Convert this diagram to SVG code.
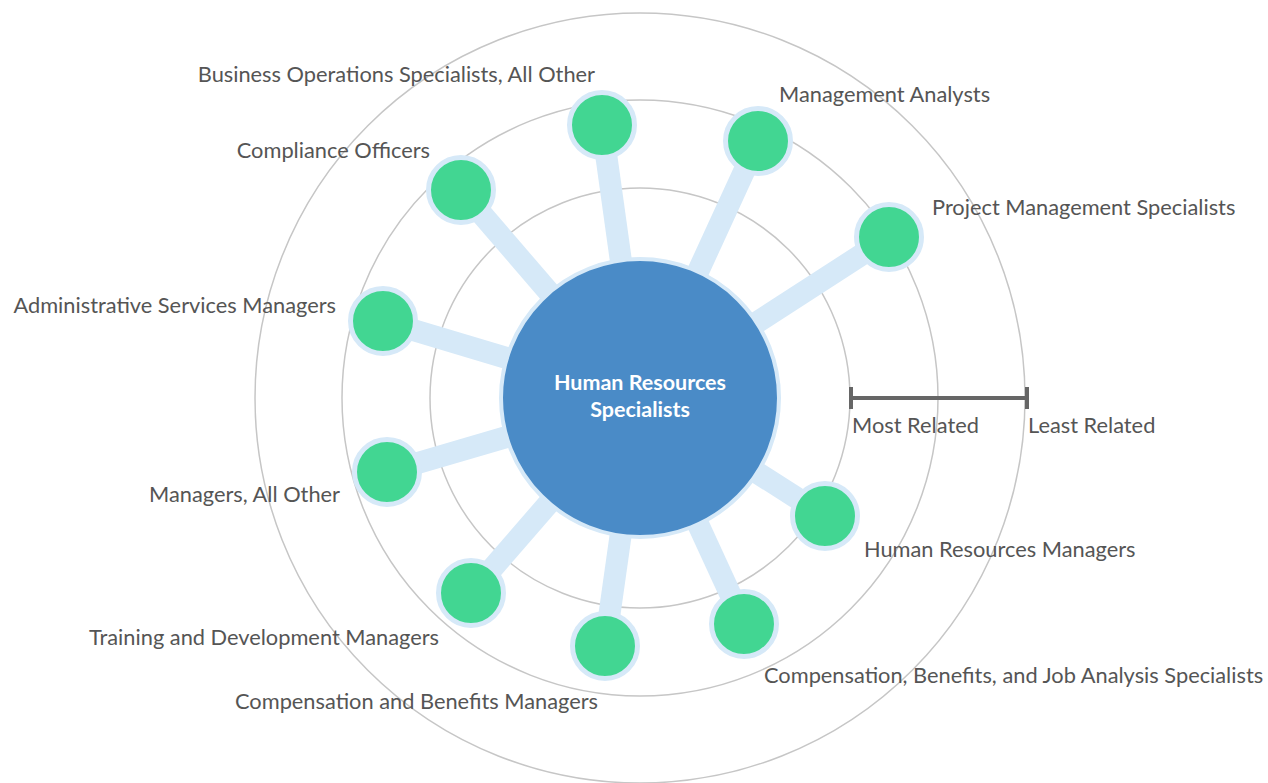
<svg xmlns="http://www.w3.org/2000/svg" width="1268" height="783" viewBox="0 0 1268 783">
<style>
.ring{fill:none;stroke:#c6c6c6;stroke-width:1.5}
.edge{stroke:#d6e9f8;stroke-width:22;stroke-linecap:butt}
.node{fill:#42d692;stroke:#d6e9f8;stroke-width:5}
.lbl{font-family:Lato,"Liberation Sans",sans-serif;font-size:21.8px;fill:#555}
.end{text-anchor:end}
.ctr{font-family:Lato,"Liberation Sans",sans-serif;font-size:21.5px;font-weight:bold;fill:#fff;text-anchor:middle}
.bar{stroke:#666;stroke-width:4;fill:none}
</style>
<rect width="1268" height="783" fill="#fff"/>
<g id="rings">
<circle class="ring" cx="640" cy="398" r="210"/>
<circle class="ring" cx="640" cy="398" r="298"/>
<circle class="ring" cx="640" cy="398" r="385"/>
</g>
<g id="connectors">
<line class="edge" x1="640" y1="398" x2="602" y2="125"/>
<line class="edge" x1="640" y1="398" x2="758" y2="141"/>
<line class="edge" x1="640" y1="398" x2="461" y2="190"/>
<line class="edge" x1="640" y1="398" x2="889" y2="237"/>
<line class="edge" x1="640" y1="398" x2="383" y2="321"/>
<line class="edge" x1="640" y1="398" x2="387" y2="472"/>
<line class="edge" x1="640" y1="398" x2="471" y2="593"/>
<line class="edge" x1="640" y1="398" x2="605" y2="646"/>
<line class="edge" x1="640" y1="398" x2="744" y2="624"/>
<line class="edge" x1="640" y1="398" x2="825" y2="516"/>
</g>
<g id="scale">
<line class="bar" x1="851" y1="398" x2="1027" y2="398"/>
<line class="bar" x1="851" y1="387" x2="851" y2="409"/>
<line class="bar" x1="1027" y1="387" x2="1027" y2="409"/>
<text class="lbl" x="852" y="433">Most Related</text>
<text class="lbl" x="1028" y="433">Least Related</text>
</g>
<g id="center">
<circle cx="640" cy="398" r="139" fill="#4a8bc7" stroke="#d6e9f8" stroke-width="4"/>
<text class="ctr" x="640" y="390">Human Resources</text>
<text class="ctr" x="640" y="417">Specialists</text>
</g>
<g id="n-business-ops"><circle class="node" cx="602" cy="125" r="32.5"/><text class="lbl end" x="595" y="82">Business Operations Specialists, All Other</text></g>
<g id="n-management-analysts"><circle class="node" cx="758" cy="141" r="32.5"/><text class="lbl" x="779" y="102">Management Analysts</text></g>
<g id="n-compliance"><circle class="node" cx="461" cy="190" r="32.5"/><text class="lbl end" x="430" y="158">Compliance Officers</text></g>
<g id="n-project-mgmt"><circle class="node" cx="889" cy="237" r="32.5"/><text class="lbl" x="932" y="215">Project Management Specialists</text></g>
<g id="n-admin-services"><circle class="node" cx="383" cy="321" r="32.5"/><text class="lbl end" x="336" y="313">Administrative Services Managers</text></g>
<g id="n-managers-other"><circle class="node" cx="387" cy="472" r="32.5"/><text class="lbl end" x="340" y="502">Managers, All Other</text></g>
<g id="n-training"><circle class="node" cx="471" cy="593" r="32.5"/><text class="lbl end" x="439" y="645">Training and Development Managers</text></g>
<g id="n-comp-ben-mgr"><circle class="node" cx="605" cy="646" r="32.5"/><text class="lbl end" x="598" y="709">Compensation and Benefits Managers</text></g>
<g id="n-comp-ben-job"><circle class="node" cx="744" cy="624" r="32.5"/><text class="lbl" x="764" y="683">Compensation, Benefits, and Job Analysis Specialists</text></g>
<g id="n-hr-managers"><circle class="node" cx="825" cy="516" r="32.5"/><text class="lbl" x="864" y="557">Human Resources Managers</text></g>
</svg>
